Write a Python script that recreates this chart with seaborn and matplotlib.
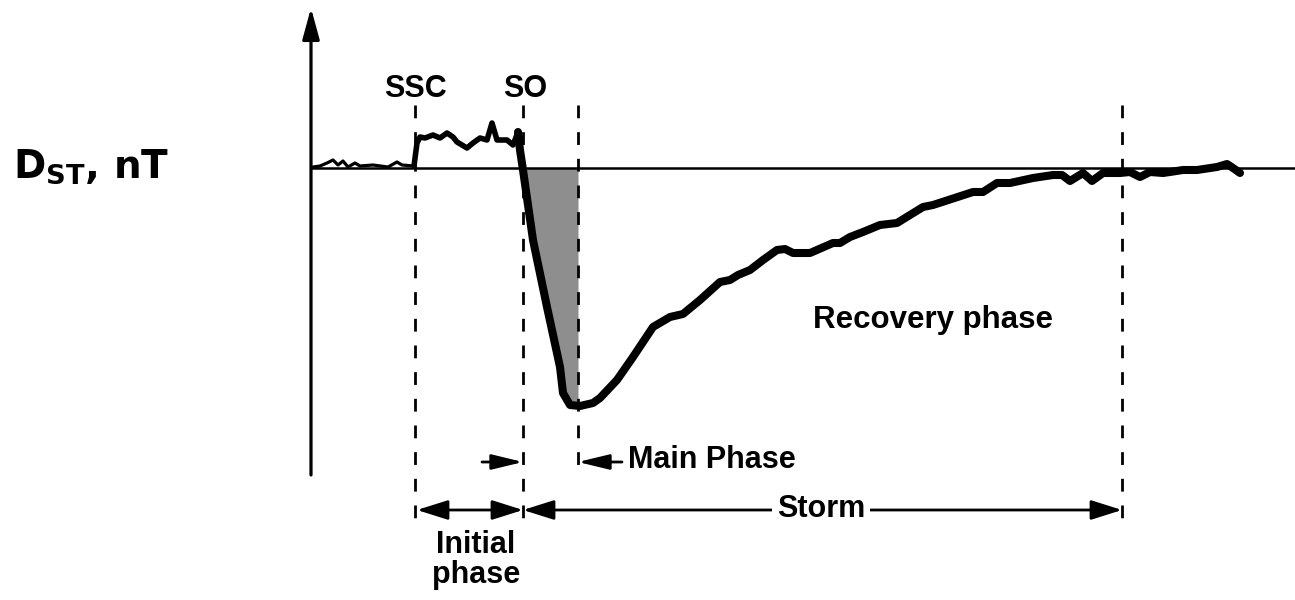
import numpy as np
import pandas as pd
import matplotlib
matplotlib.use("Agg")
import matplotlib.pyplot as plt
import seaborn as sns

# Dst trace of a geomagnetic storm: hours relative to the sudden commencement, nT
pre_time = [-10.2, -9.5, -8.8, -8.2, -7.7, -7.2, -6.7, -6.0, -5.5, -4.2, -2.7, -1.8, -1.3, -0.1]
pre_dst = [1, 2, 5, 8, 3, 7, 1, 5, 2, 3, 1, 6, 3, 2]

initial_time = [0.2, 0.5, 1.0, 1.8, 2.5, 3.2, 3.8, 4.2, 5.2, 5.8, 6.5, 7.2, 7.7, 8.2, 9.2, 9.8, 10.3]
initial_dst = [25, 31, 30, 33, 30, 35, 31, 26, 20, 25, 30, 28, 45, 28, 28, 23, 36]

main_time = [10.5, 10.8, 11.8, 13.2, 14.5, 14.8, 15.5, 16.5, 17.8, 18.5, 20.2, 21.8, 23.8,
             25.5, 26.8, 28.5]
main_dst = [18, -2, -72, -139, -199, -225, -237, -238, -235, -230, -212, -189, -159,
            -149, -146, -132]

recovery_time = [30.5, 31.5, 32.3, 33.5, 34.8, 36.2, 37.0, 37.8, 39.5, 41.8, 42.5, 43.5, 44.8,
                 46.5, 48.2, 50.8, 51.8, 55.8, 56.8, 58.2, 59.5, 61.8, 63.8, 64.7, 65.5, 66.8,
                 67.7, 68.8, 70.5, 71.5, 72.5, 73.5, 74.8, 75.5, 76.8, 78.2, 80.2, 81.2, 81.8,
                 82.5]
recovery_dst = [-114, -112, -107, -102, -92, -82, -81, -85, -85, -75, -75, -69, -64,
                -57, -55, -39, -37, -24, -24, -15, -15, -10, -7, -7, -13, -5,
                -13, -5, -5, -4, -9, -4, -5, -4, -2, -2, 1, 4, 0,
                -5]

# Event times (h): sudden storm commencement, storm onset, Dst minimum, end of storm
event_labels = ["SSC", "SO", "", ""]
event_times = [0.0, 10.8, 16.3, 70.7]

sns.set_theme(style="white")
plt.rcParams["font.family"] = ["Liberation Sans", "DejaVu Sans"]
plt.rcParams["mathtext.fontset"] = "dejavusans"

fig = plt.figure(figsize=(12.95, 6.0), dpi=100)
ax = fig.add_axes([0, 0, 1, 1])
ax.set_xlim(-41.5, 88.0)
ax.set_ylim(-432, 168)
ax.axis("off")

t_ssc, t_so, t_min, t_end = event_times
t_axis = -10.4

# Segments of the trace, drawn with increasing line weight
quiet = pd.DataFrame({"time_h": pre_time + initial_time[:1],
                      "dst_nT": pre_dst + initial_dst[:1]})
initial = pd.DataFrame({"time_h": pre_time[-1:] + initial_time,
                        "dst_nT": pre_dst[-1:] + initial_dst})
storm = pd.DataFrame({"time_h": initial_time[-1:] + main_time + recovery_time,
                      "dst_nT": initial_dst[-1:] + main_dst + recovery_dst})

line_kw = dict(color="black", estimator=None, sort=False, legend=False,
               solid_joinstyle="round", solid_capstyle="round", zorder=5)
sns.lineplot(data=quiet, x="time_h", y="dst_nT", ax=ax, linewidth=2.3, **line_kw)
sns.lineplot(data=initial, x="time_h", y="dst_nT", ax=ax, linewidth=4.0, **line_kw)
sns.lineplot(data=storm, x="time_h", y="dst_nT", ax=ax, linewidth=5.8, **line_kw)

# Shaded main-phase area between the falling trace and the Dst-minimum marker
fall_t = np.array([initial_time[-1]] + main_time[:8])
fall_d = np.array([initial_dst[-1]] + main_dst[:8])
levels = np.linspace(0, -236, 120)
left_edge = np.interp(levels[::-1], fall_d[::-1], fall_t[::-1])[::-1]
ax.fill_betweenx(levels, left_edge, t_min, color="#8e8e8e", lw=0, zorder=2)

# Zero level
ax.plot([t_axis, 88.0], [0, 0], color="black", lw=1.8, zorder=3)

# Vertical axis with arrow head
ax.annotate("", xy=(t_axis, 160), xytext=(t_axis, -307),
            arrowprops=dict(arrowstyle="-|>,head_length=0.95,head_width=0.26",
                            mutation_scale=20, lw=2.3, color="black",
                            shrinkA=0, shrinkB=0), zorder=4)

# Dashed event markers
marker_bottoms = [-360, -357, -301, -352]
for t, yb in zip(event_times, marker_bottoms):
    ln, = ax.plot([t, t], [63, yb], color="black", lw=2.0, zorder=4)
    ln.set_dashes((4.6, 5.0))

txt = dict(fontsize=22, fontweight="bold", color="black")
for lab, t in zip(event_labels, event_times):
    if lab:
        ax.text(t + (0.2 if lab == "SO" else 0.0), 71, lab, ha="center", va="baseline", **txt)


def arrow(x0, x1, y, style, hw):
    ax.annotate("", xy=(x1, y), xytext=(x0, y),
                arrowprops=dict(arrowstyle=f"{style},head_length=0.95,head_width={hw}",
                                mutation_scale=20, lw=2.0, color="black",
                                shrinkA=0, shrinkB=0), zorder=4)


# Phase annotations
arrow(6.7, t_so, -294, "-|>", 0.23)
arrow(20.7, t_min, -294, "-|>", 0.23)
ax.text(21.3, -300, "Main Phase", ha="left", va="baseline", **txt)

arrow(t_ssc + 0.2, t_so, -342, "<|-|>", 0.3)
arrow(t_so, t_end, -342, "<|-|>", 0.3)
ax.text(40.6, -349, "Storm", ha="center", va="baseline", zorder=6,
        bbox=dict(boxstyle="square,pad=0.15", fc="white", ec="none"), **txt)

ax.text(6.1, -385, "Initial", ha="center", va="baseline", **txt)
ax.text(6.1, -415, "phase", ha="center", va="baseline", **txt)

ax.text(39.8, -160, "Recovery phase", ha="left", va="baseline",
        fontsize=22.5, fontweight="bold", color="black")

ax.text(-40.2, -10, r"$\mathbf{D}_{\mathbf{ST}}$, nT", ha="left", va="baseline",
        fontsize=28, fontweight="bold", family="DejaVu Sans", color="black")

fig.savefig("out.png", dpi=100)
